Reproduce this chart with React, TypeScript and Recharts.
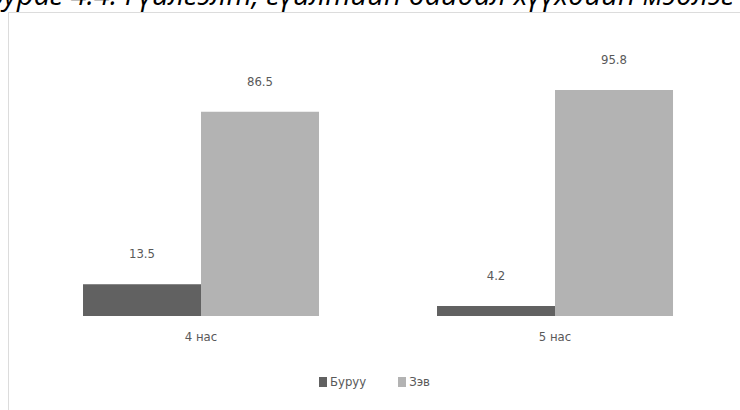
import React from 'react';
import { BarChart, Bar, XAxis, YAxis, Legend, LabelList } from 'recharts';

const categories = ['4 нас', '5 нас'];
const wrongValues = [13.5, 4.2];
const rightValues = [86.5, 95.8];
const seriesNames = ['Буруу', 'Зэв'];
const seriesColors = ['#616161', '#b3b3b3'];
const titleText = 'Зураг 4.4. Гүйлгэлт, гүйлтийн байдал хүүхдийн мэдлэг';

const data = categories.map((c, i) => ({ name: c, wrong: wrongValues[i], right: rightValues[i] }));

const FONT = '"Liberation Sans Narrow", "DejaVu Sans Condensed", "Open Sans", sans-serif';

const renderLegend = (props: any) => {
  const payload = props.payload || [];
  return (
    <div style={{ display: 'flex', justifyContent: 'center', alignItems: 'center', fontFamily: FONT, fontSize: 13, color: '#595959' }}>
      {payload.map((p: any, i: number) => (
        <div key={i} style={{ display: 'flex', alignItems: 'center', marginRight: i === 0 ? 32 : 0 }}>
          <span style={{ display: 'inline-block', width: 8, height: 10, background: p.color, marginRight: 3 }} />
          <span>{p.value}</span>
        </div>
      ))}
    </div>
  );
};

export default function App() {
  return (
    <div style={{ position: 'absolute', left: 0, top: 0, width: 740, height: 410, overflow: 'hidden', background: '#fff' }}>
      <svg style={{ position: 'absolute', left: 0, top: 0 }} width={740} height={20}>
        <text x={-12} y={5} fontFamily='"Open Sans", "Noto Sans", sans-serif' fontStyle="italic" fontSize={29} fill="#000">
          {titleText}
        </text>
      </svg>
      <div style={{ position: 'absolute', left: 8, top: 12, width: 740, height: 410, border: '1px solid #dcdcdc', boxSizing: 'border-box' }}>
        <BarChart
          width={731}
          height={397}
          data={data}
          margin={{ top: 67, right: 8, left: 15, bottom: 64 }}
          barCategoryGap="16.67%"
          barGap={0}
        >
          <YAxis hide domain={[0, 100]} />
          <XAxis
            dataKey="name"
            axisLine={false}
            tickLine={false}
            tickSize={0}
            tickMargin={16}
            height={30}
            tick={{ fill: '#595959', fontSize: 13, fontFamily: FONT }}
          />
          <Legend
            layout="horizontal"
            verticalAlign="middle"
            content={renderLegend}
            wrapperStyle={{ top: 361, left: 0, width: 731 }}
          />
          <Bar dataKey="wrong" name={seriesNames[0]} fill={seriesColors[0]} isAnimationActive={false}>
            <LabelList dataKey="wrong" position="top" offset={26} fill="#595959" fontSize={13} fontFamily={FONT} />
          </Bar>
          <Bar dataKey="right" name={seriesNames[1]} fill={seriesColors[1]} isAnimationActive={false}>
            <LabelList dataKey="right" position="top" offset={26} fill="#595959" fontSize={13} fontFamily={FONT} />
          </Bar>
        </BarChart>
      </div>
    </div>
  );
}
